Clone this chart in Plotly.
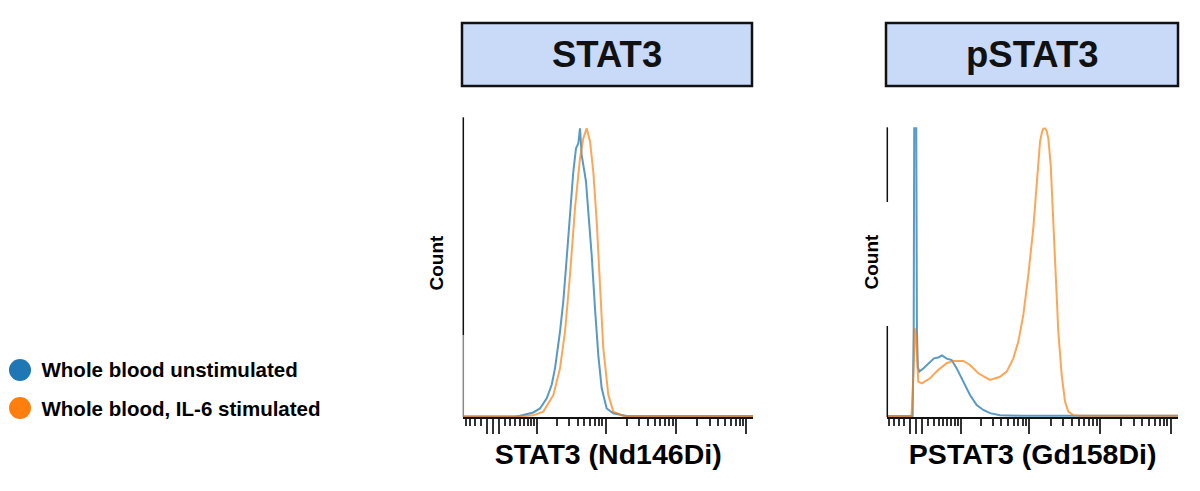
import numpy as np
import plotly.graph_objects as go

# ---------------- data (x in arcsinh(intensity/5) units, y = normalized count) -------------
stat3_unstim_x = [-0.97, 0.73, 0.9, 1.056, 1.327, 1.546, 1.765, 1.928, 2.036, 2.199, 2.307, 2.418,
                  2.526, 2.634, 2.722, 2.797, 2.853, 2.908, 2.961, 3.049, 3.124, 3.235, 3.343,
                  3.451, 3.562, 3.725, 3.941, 4.379, 8.6]
stat3_unstim_y = [0.0, 0.0, 0.003, 0.007, 0.014, 0.028, 0.063, 0.11, 0.167, 0.294, 0.399, 0.549,
                  0.699, 0.849, 0.93, 0.947, 1.0, 0.907, 0.873, 0.815, 0.711, 0.56, 0.375,
                  0.213, 0.098, 0.028, 0.011, 0.002, 0.002]

stat3_il6_x = [-0.97, 0.89, 1.327, 1.654, 1.98, 2.199, 2.363, 2.526, 2.69, 2.853, 2.961, 3.072,
               3.18, 3.288, 3.399, 3.507, 3.614, 3.778, 3.941, 4.268, 8.6]
stat3_il6_y = [0.0, 0.0, 0.004, 0.017, 0.074, 0.167, 0.294, 0.491, 0.723, 0.896, 0.965, 1.0,
               0.954, 0.849, 0.676, 0.445, 0.237, 0.075, 0.017, 0.002, 0.002]

pstat3_unstim_x = [-0.956, -0.12, -0.085, -0.06, -0.01, 0.02, 0.05, 0.098, 0.228, 0.447, 0.577,
                   0.718, 0.838, 0.992, 1.155, 1.318, 1.533, 1.752, 1.971, 2.186, 2.405, 2.731,
                   3.384, 8.6]
pstat3_unstim_y = [0.0, 0.0, 0.3, 1.3, 1.3, 0.3, 0.17, 0.154, 0.165, 0.188, 0.2, 0.203, 0.21,
                   0.199, 0.194, 0.165, 0.12, 0.073, 0.038, 0.021, 0.01, 0.003, 0.001, 0.001]

pstat3_il6_x = [-0.956, -0.157, -0.091, -0.042, 0.007, 0.065, 0.176, 0.447, 0.718, 0.992, 1.207,
                1.533, 1.752, 2.023, 2.297, 2.405, 2.731, 2.949, 3.165, 3.328, 3.491, 3.654,
                3.817, 3.928, 4.036, 4.1, 4.144, 4.199, 4.25, 4.307, 4.385, 4.47, 4.558, 4.633,
                4.744, 4.852, 4.959, 5.122, 5.341, 8.6]
pstat3_il6_y = [0.0, 0.0, 0.15, 0.304, 0.25, 0.119, 0.113, 0.131, 0.16, 0.183, 0.191, 0.191,
                0.177, 0.148, 0.131, 0.125, 0.136, 0.154, 0.2, 0.258, 0.35, 0.489, 0.651, 0.813,
                0.951, 0.985, 0.997, 0.998, 0.99, 0.963, 0.871, 0.674, 0.466, 0.292, 0.142,
                0.05, 0.015, 0.003, 0.001, 0.001]

series_names = ["Whole blood unstimulated", "Whole blood, IL-6 stimulated"]
series_colors = ["#1f77b4", "#ff7f0e"]
line_colors = ["rgba(31,119,180,0.75)", "rgba(255,127,14,0.7)"]
panel_titles = ["STAT3", "pSTAT3"]
x_titles = ["STAT3 (Nd146Di)", "PSTAT3 (Gd158Di)"]
y_title = "Count"

major_tick_values = [-1, 0, 1, 10, 100, 1000, 10000]
minor_tick_values = ([-5, -4, -3, -2] + list(range(2, 10)) + list(range(20, 100, 10))
                     + list(range(200, 1000, 100)) + list(range(2000, 10000, 1000)))
cofactor = 5.0

# ---------------- figure -------------
W, H = 1200, 491
OFF = 8  # page body margin
FONT = "Liberation Sans, Arial, Helvetica, sans-serif"

def px_x(p):
    return (p - OFF) / W

def px_y(p):
    return 1 - (p - OFF) / H

fig = go.Figure()

panels = [
    ("x", "y", stat3_unstim_x, stat3_unstim_y, stat3_il6_x, stat3_il6_y),
    ("x2", "y2", pstat3_unstim_x, pstat3_unstim_y, pstat3_il6_x, pstat3_il6_y),
]
for xa, ya, ux, uy, sx, sy in panels:
    fig.add_trace(go.Scatter(x=ux, y=uy, xaxis=xa, yaxis=ya, mode="lines",
                             line=dict(color=line_colors[0], width=2), showlegend=False,
                             hoverinfo="skip"))
    fig.add_trace(go.Scatter(x=sx, y=sy, xaxis=xa, yaxis=ya, mode="lines",
                             line=dict(color=line_colors[1], width=2), showlegend=False,
                             hoverinfo="skip"))

for i, name in enumerate(series_names):
    fig.add_trace(go.Scatter(x=[None], y=[None], mode="markers", name=name,
                             legendgroup=f"g{i}",
                             marker=dict(color=series_colors[i], size=22, symbol="circle")))

major_u = [float(np.arcsinh(v / cofactor)) for v in major_tick_values]
minor_u = [float(np.arcsinh(v / cofactor)) for v in minor_tick_values]

def xaxis_cfg(domain, rng, title):
    return dict(domain=domain, range=rng, showgrid=False, zeroline=False,
                showline=True, linecolor="#111", linewidth=1.5,
                ticks="outside", tickvals=major_u, ticklen=15, tickwidth=1.5,
                tickcolor="#333", showticklabels=False,
                minor=dict(tickvals=minor_u, ticks="outside", ticklen=7, tickwidth=1.5,
                           tickcolor="#333", showgrid=False),
                title=dict(text=title, font=dict(family=FONT, size=28.5, color="#000", weight="bold"),
                           standoff=11),
                automargin=False, fixedrange=True)

def yaxis_cfg(domain, rng, anchor):
    return dict(domain=domain, range=rng, showgrid=False, zeroline=False, showline=False,
                ticks="", showticklabels=False, anchor=anchor,
                automargin=False, fixedrange=True)

left_dom = [px_x(463.3), px_x(753)]
right_dom = [px_x(887.3), px_x(1178)]
bottom = px_y(417)

fig.update_layout(
    width=W, height=H,
    margin=dict(l=0, r=0, t=0, b=0, autoexpand=False),
    paper_bgcolor="white", plot_bgcolor="white",
    xaxis=xaxis_cfg(left_dom, [-0.961, 8.507], x_titles[0]) | dict(anchor="y"),
    yaxis=yaxis_cfg([bottom, px_y(117.3)], [-0.0017, 1.038], "x"),
    xaxis2=xaxis_cfg(right_dom, [-0.946, 8.538], x_titles[1]) | dict(anchor="y2"),
    yaxis2=yaxis_cfg([bottom, px_y(127.3)], [-0.0035, 1.0014], "x2"),
    legend=dict(x=px_x(1.5), y=px_y(349), xanchor="left", yanchor="top",
                font=dict(family=FONT, size=20.5, color="#000", weight="bold"),
                tracegroupgap=10, bgcolor="rgba(0,0,0,0)", itemsizing="trace"),
    showlegend=True,
)

# "Count" y-axis titles
for cx, cy in [(435.5, 263), (870.5, 262)]:
    fig.add_annotation(xref="paper", yref="paper", x=px_x(cx), y=px_y(cy), text=y_title,
                       textangle=-90, showarrow=False, xanchor="center", yanchor="middle",
                       font=dict(family=FONT, size=19, color="#000", weight="bold"))

# larger legend dots behind the (size-capped) legend symbols
for cy, col in zip([370, 408], series_colors):
    fig.add_shape(type="circle", xref="paper", yref="paper",
                  x0=px_x(20 - 11), x1=px_x(20 + 11), y0=px_y(cy + 11), y1=px_y(cy - 11),
                  fillcolor=col, line=dict(width=0))

# y axis lines (segmented as in the reference)
seg = [
    ("x domain", 117.3, 335, "#111"), ("x domain", 335, 417, "#888"),
    ("x2 domain", 127.3, 202, "#111"), ("x2 domain", 326, 417, "#111"),
]
for xref, y0, y1, col in seg:
    fig.add_shape(type="line", xref=xref, yref="paper", x0=0, x1=0,
                  y0=px_y(y0), y1=px_y(y1), line=dict(color=col, width=1.5))

# title boxes
boxes = [(462, 752), (886, 1178)]
for (bx0, bx1), t in zip(boxes, panel_titles):
    fig.add_shape(type="rect", xref="paper", yref="paper",
                  x0=px_x(bx0), x1=px_x(bx1), y0=px_y(86), y1=px_y(23),
                  fillcolor="#c9daf8", line=dict(color="#111", width=2.5), layer="below")
    fig.add_annotation(xref="paper", yref="paper", x=px_x((bx0 + bx1) / 2), y=px_y(55),
                       text=t, showarrow=False, xanchor="center", yanchor="middle",
                       font=dict(family=FONT, size=36.5, color="#111", weight="bold"))

fig.write_html("out.html")
